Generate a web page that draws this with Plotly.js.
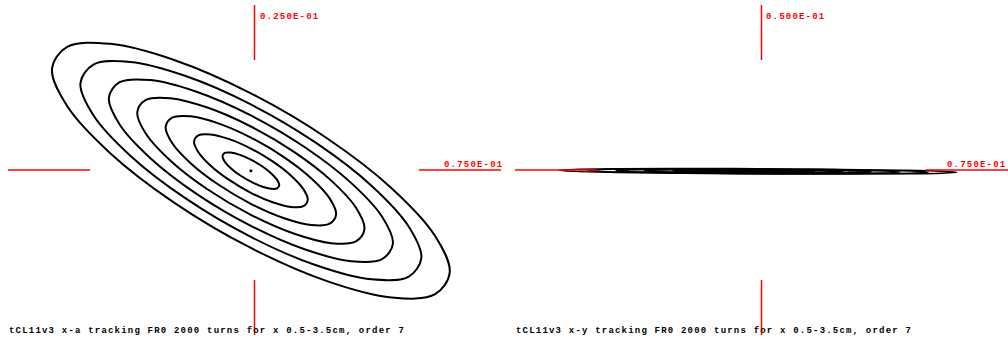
<!DOCTYPE html>
<html>
<head>
<meta charset="utf-8">
<script src="https://cdn.plot.ly/plotly-3.0.1.min.js"></script>
<style>
html,body{margin:0;padding:0;background:#fff;}
#chart{width:1008px;height:339px;}
.annotation-text{letter-spacing:1.2px;}
</style>
</head>
<body>
<div id="chart"></div>
<script>
// Horizontal position x (m) of the tracked particles, 7 starting amplitudes (0.5 ... 3.5 cm)
const x1 = [.00754,.00689,.00501,.00221,-.0011,-.00441,-.00721,-.00909,-.00974,-.00909,-.00721,-.00441,-.0011,.00221,.00501,.00689,.00754];
const x2 = [.01619,.01487,.01113,.00551,-.0011,-.00771,-.01333,-.01707,-.01839,-.01707,-.01333,-.00771,-.0011,.00551,.01113,.01487,.01619];
const x3 = [.02483,.02286,.01724,.00882,-.0011,-.01102,-.01944,-.02506,-.02703,-.02506,-.01944,-.01102,-.0011,.00882,.01724,.02286,.02483];
const x4 = [.03347,.03084,.02336,.01213,-.0011,-.01433,-.02556,-.03304,-.03567,-.03304,-.02556,-.01433,-.0011,.01213,.02336,.03084,.03347];
const x5 = [.04211,.03883,.02947,.01544,-.0011,-.01764,-.03167,-.04103,-.04431,-.04103,-.03167,-.01764,-.0011,.01544,.02947,.03883,.04211];
const x6 = [.05076,.04681,.03559,.01874,-.0011,-.02094,-.03779,-.04901,-.05296,-.04901,-.03779,-.02094,-.0011,.01874,.03559,.04681,.05076];
const x7 = [.0594,.0548,.0417,.02205,-.0011,-.02425,-.0439,-.0570,-.0616,-.0570,-.0439,-.02425,-.0011,.02205,.0417,.0548,.0594];

// Angle a (rad) for the x-a phase space
const a1 = [-.00231,-.00278,-.00284,-.00249,-.00177,-.0008,.00028,.0013,.00211,.00258,.00264,.00229,.00157,.0006,-.00048,-.0015,-.00231];
const a2 = [-.00451,-.00546,-.00559,-.00488,-.00345,-.0015,.00066,.0027,.00431,.00526,.00539,.00468,.00325,.0013,-.00086,-.0029,-.00451];
const a3 = [-.00672,-.00814,-.00833,-.00727,-.00512,-.0022,.00104,.0041,.00652,.00794,.00813,.00707,.00492,.002,-.00124,-.0043,-.00672];
const a4 = [-.00893,-.01082,-.01108,-.00966,-.00679,-.00291,.00141,.00549,.00873,.01062,.01088,.00946,.00659,.00271,-.00161,-.00569,-.00893];
const a5 = [-.01114,-.0135,-.01382,-.01205,-.00846,-.00361,.00179,.00689,.01094,.0133,.01362,.01185,.00826,.00341,-.00199,-.00709,-.01114];
const a6 = [-.01334,-.01618,-.01657,-.01444,-.01014,-.00431,.00217,.00829,.01314,.01598,.01637,.01424,.00994,.00411,-.00237,-.00849,-.01334];
const a7 = [-.01555,-.01886,-.01931,-.01683,-.01181,-.00501,.00255,.00969,.01535,.01866,.01911,.01663,.01161,.00481,-.00275,-.00989,-.01555];

// Vertical position y (m) for the x-y plot
const y1 = [-.00044,-.0004,-.00035,-.00031,-.00029,-.00028,-.00029,-.00032,-.00036,-.0004,-.00045,-.00049,-.00051,-.00052,-.00051,-.00048,-.00044];
const y2 = [-.00049,-.00039,-.0003,-.00022,-.00017,-.00016,-.00018,-.00023,-.00031,-.00041,-.0005,-.00058,-.00063,-.00064,-.00062,-.00057,-.00049];
const y3 = [-.00053,-.00039,-.00025,-.00013,-.00006,-.00004,-.00007,-.00015,-.00027,-.00041,-.00055,-.00067,-.00074,-.00076,-.00073,-.00065,-.00053];
const y4 = [-.00057,-.00038,-.0002,-.00005,.00006,.00009,.00005,-.00007,-.00023,-.00042,-.0006,-.00075,-.00086,-.00089,-.00085,-.00073,-.00057];
const y5 = [-.00061,-.00038,-.00015,.00004,.00017,.00021,.00016,.00001,-.00019,-.00042,-.00065,-.00084,-.00097,-.00101,-.00096,-.00081,-.00061];
const y6 = [-.00066,-.00037,-.0001,.00013,.00029,.00033,.00027,.0001,-.00014,-.00043,-.0007,-.00093,-.00109,-.00113,-.00107,-.0009,-.00066];
const y7 = [-.0007,-.00037,-.00005,.00022,.0004,.00045,.00038,.00018,-.0001,-.00043,-.00075,-.00102,-.0012,-.00125,-.00118,-.00098,-.0007];

// Central particle
const centerX = [-0.0011];
const centerA = [-0.0001];

// Axis scale labels
const xMaxLabel = '0.750E-01';
const aMaxLabel = '0.250E-01';
const yMaxLabel = '0.500E-01';
const titleXA = 'tCL11v3 x-a tracking FR0 2000 turns for x 0.5-3.5cm, order 7';
const titleXY = 'tCL11v3 x-y tracking FR0 2000 turns for x 0.5-3.5cm, order 7';

const xs = [x1,x2,x3,x4,x5,x6,x7];
const as = [a1,a2,a3,a4,a5,a6,a7];
const ys = [y1,y2,y3,y4,y5,y6,y7];

const traces = [];
xs.forEach((xv, i) => {
  traces.push({x: xv, y: as[i], type: 'scatter', mode: 'lines', xaxis: 'x', yaxis: 'y',
    line: {color: '#000', width: 2, shape: 'spline'}, hoverinfo: 'skip', showlegend: false});
});
traces.push({x: centerX, y: centerA, type: 'scatter', mode: 'markers', xaxis: 'x', yaxis: 'y',
  marker: {color: '#000', size: 3}, hoverinfo: 'skip', showlegend: false});
xs.forEach((xv, i) => {
  traces.push({x: xv, y: ys[i], type: 'scatter', mode: 'lines', xaxis: 'x2', yaxis: 'y2',
    line: {color: '#000', width: 1.4, shape: 'spline'}, hoverinfo: 'skip', showlegend: false});
});

const W = 1008, H = 339;
const px = v => v / W;
const py = v => (H - v) / H;

const hidden = {showgrid: false, zeroline: false, showticklabels: false, showline: false, ticks: ''};
const red = {color: '#ff0000', width: 1.5};
function cross(xr, yr) {
  const xd = xr + ' domain', yd = yr + ' domain';
  return [
    {type: 'line', xref: xd, yref: yd, x0: 0.5, x1: 0.5, y0: 1, y1: 5/6, line: red, layer: 'above'},
    {type: 'line', xref: xd, yref: yd, x0: 0.5, x1: 0.5, y0: 0, y1: 1/6, line: red, layer: 'above'},
    {type: 'line', xref: xd, yref: yd, x0: 0, x1: 1/6, y0: 0.5, y1: 0.5, line: red, layer: 'above'},
    {type: 'line', xref: xd, yref: yd, x0: 5/6, x1: 1, y0: 0.5, y1: 0.5, line: red, layer: 'above'}
  ];
}

const lblFont = {family: 'Liberation Mono, monospace', size: 9, color: '#ff0000', weight: 'bold'};
const ttlFont = {family: 'Liberation Mono, monospace', size: 9, color: '#000', weight: 'bold'};
function ann(text, x, y, font, anchor) {
  return {text: text, xref: 'paper', yref: 'paper', x: px(x), y: py(y), xanchor: anchor || 'left', yanchor: 'middle',
    showarrow: false, font: font, borderpad: 0};
}

const layout = {
  width: W, height: H,
  margin: {l: 0, r: 0, t: 0, b: 0},
  paper_bgcolor: '#fff', plot_bgcolor: '#fff',
  showlegend: false,
  xaxis: Object.assign({domain: [8/W, 501/W], range: [-0.075, 0.075]}, hidden),
  yaxis: Object.assign({domain: [py(335), py(5)], range: [-0.025, 0.025]}, hidden),
  xaxis2: Object.assign({domain: [515/W, 1], range: [-0.075, 0.075], anchor: 'y2'}, hidden),
  yaxis2: Object.assign({domain: [py(335), py(5)], range: [-0.05, 0.05], anchor: 'x2'}, hidden),
  shapes: cross('x', 'y').concat(cross('x2', 'y2')),
  annotations: [
    ann(aMaxLabel, 259, 17, lblFont),
    ann(xMaxLabel, 504, 165, lblFont, 'right'),
    ann(yMaxLabel, 765, 17, lblFont),
    ann(xMaxLabel, 1007, 165, lblFont, 'right'),
    ann(titleXA, 8, 331, ttlFont),
    ann(titleXY, 515, 331, ttlFont)
  ]
};

Plotly.newPlot('chart', traces, layout, {staticPlot: true, displayModeBar: false});
</script>
</body>
</html>
